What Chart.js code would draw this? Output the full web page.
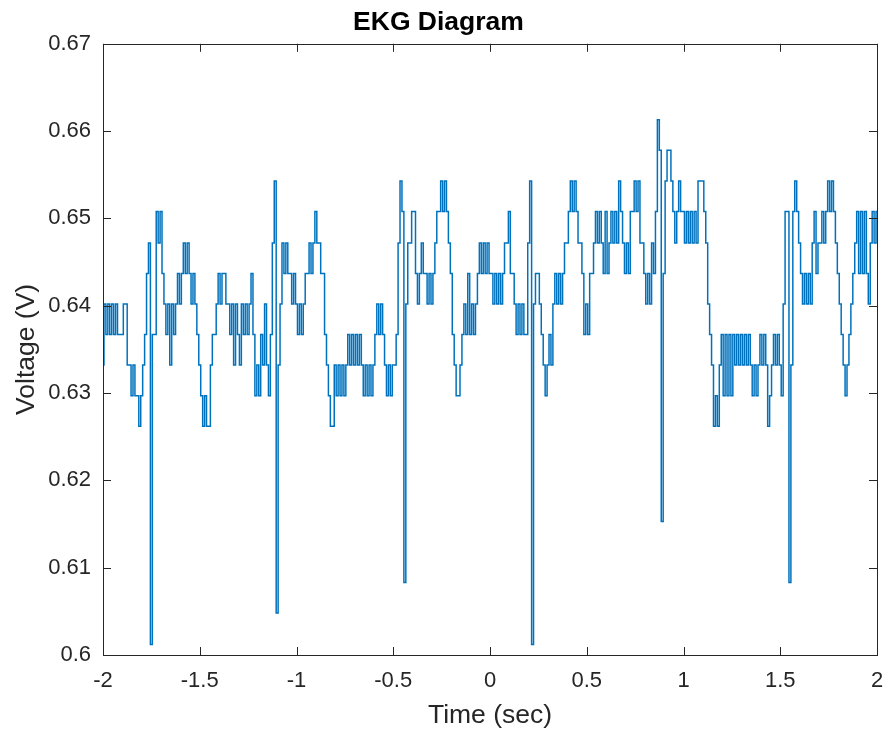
<!DOCTYPE html>
<html>
<head>
<meta charset="utf-8">
<script src="https://cdn.jsdelivr.net/npm/chart.js@4.4.1/dist/chart.umd.min.js"></script>
<style>
  html, body { margin: 0; padding: 0; background: #fff; }
  #wrap { width: 888px; height: 736px; }
</style>
</head>
<body>
<div id="wrap"><canvas id="ekg" width="888" height="736"></canvas></div>
<script>
// sampled EKG trace, 100 samples per second starting at -2 s
var sampleStart = -2;
var sampleStep = 0.01;

var volts = [
    0.6332, 0.6402, 0.6367, 0.6402, 0.6367, 0.6402, 0.6367, 0.6402, 0.6367, 0.6367,
    0.6367, 0.6402, 0.6402, 0.6332, 0.6332, 0.6297, 0.6332, 0.6297, 0.6297, 0.6262,
    0.6297, 0.6332, 0.6367, 0.6437, 0.6472, 0.6012, 0.6367, 0.6367, 0.6508, 0.6472,
    0.6508, 0.6437, 0.6402, 0.6367, 0.6402, 0.6332, 0.6402, 0.6367, 0.6402, 0.6437,
    0.6402, 0.6437, 0.6472, 0.6437, 0.6472, 0.6437, 0.6402, 0.6437, 0.6402, 0.6367,
    0.6332, 0.6297, 0.6262, 0.6297, 0.6262, 0.6262, 0.6332, 0.6367, 0.6367, 0.6402,
    0.6437, 0.6402, 0.6437, 0.6437, 0.6402, 0.6402, 0.6367, 0.6402, 0.6332, 0.6402,
    0.6367, 0.6332, 0.6402, 0.6367, 0.6402, 0.6367, 0.6402, 0.6437, 0.6367, 0.6297,
    0.6332, 0.6297, 0.6367, 0.6332, 0.6402, 0.6332, 0.6297, 0.6367, 0.6472, 0.6543,
    0.6048, 0.6332, 0.6402, 0.6472, 0.6437, 0.6472, 0.6437, 0.6437, 0.6402, 0.6437,
    0.6402, 0.6367, 0.6402, 0.6367, 0.6402, 0.6437, 0.6437, 0.6472, 0.6437, 0.6472,
    0.6508, 0.6472, 0.6472, 0.6437, 0.6437, 0.6367, 0.6332, 0.6297, 0.6262, 0.6262,
    0.6332, 0.6297, 0.6332, 0.6297, 0.6332, 0.6297, 0.6332, 0.6367, 0.6332, 0.6367,
    0.6332, 0.6367, 0.6332, 0.6367, 0.6332, 0.6297, 0.6332, 0.6297, 0.6332, 0.6297,
    0.6332, 0.6367, 0.6402, 0.6367, 0.6402, 0.6367, 0.6332, 0.6297, 0.6332, 0.6297,
    0.6332, 0.6332, 0.6367, 0.6472, 0.6543, 0.6508, 0.6083, 0.6402, 0.6472, 0.6472,
    0.6508, 0.6508, 0.6437, 0.6402, 0.6437, 0.6472, 0.6437, 0.6437, 0.6402, 0.6437,
    0.6402, 0.6437, 0.6472, 0.6508, 0.6508, 0.6543, 0.6508, 0.6543, 0.6508, 0.6472,
    0.6437, 0.6367, 0.6332, 0.6297, 0.6297, 0.6332, 0.6367, 0.6402, 0.6367, 0.6437,
    0.6367, 0.6402, 0.6367, 0.6402, 0.6437, 0.6472, 0.6437, 0.6472, 0.6437, 0.6472,
    0.6437, 0.6437, 0.6402, 0.6437, 0.6402, 0.6437, 0.6402, 0.6437, 0.6472, 0.6472,
    0.6508, 0.6437, 0.6437, 0.6402, 0.6367, 0.6402, 0.6367, 0.6402, 0.6367, 0.6367,
    0.6472, 0.6543, 0.6012, 0.6402, 0.6437, 0.6437, 0.6402, 0.6367, 0.6332, 0.6297,
    0.6332, 0.6367, 0.6332, 0.6402, 0.6437, 0.6402, 0.6437, 0.6402, 0.6437, 0.6472,
    0.6472, 0.6508, 0.6543, 0.6508, 0.6543, 0.6508, 0.6472, 0.6472, 0.6437, 0.6367,
    0.6402, 0.6367, 0.6437, 0.6437, 0.6472, 0.6508, 0.6472, 0.6508, 0.6472, 0.6437,
    0.6508, 0.6437, 0.6472, 0.6508, 0.6472, 0.6508, 0.6472, 0.6543, 0.6508, 0.6472,
    0.6437, 0.6472, 0.6437, 0.6508, 0.6508, 0.6543, 0.6508, 0.6543, 0.6472, 0.6472,
    0.6437, 0.6402, 0.6437, 0.6402, 0.6472, 0.6437, 0.6508, 0.6613, 0.6578, 0.6153,
    0.6437, 0.6543, 0.6578, 0.6578, 0.6543, 0.6508, 0.6472, 0.6508, 0.6543, 0.6508,
    0.6508, 0.6472, 0.6508, 0.6472, 0.6508, 0.6472, 0.6508, 0.6472, 0.6543, 0.6543,
    0.6543, 0.6508, 0.6472, 0.6402, 0.6367, 0.6332, 0.6262, 0.6297, 0.6262, 0.6332,
    0.6367, 0.6297, 0.6367, 0.6297, 0.6367, 0.6297, 0.6367, 0.6332, 0.6367, 0.6332,
    0.6367, 0.6332, 0.6367, 0.6332, 0.6367, 0.6332, 0.6297, 0.6332, 0.6297, 0.6332,
    0.6367, 0.6332, 0.6367, 0.6332, 0.6262, 0.6297, 0.6332, 0.6367, 0.6332, 0.6367,
    0.6332, 0.6297, 0.6402, 0.6508, 0.6508, 0.6083, 0.6332, 0.6508, 0.6543, 0.6508,
    0.6472, 0.6437, 0.6402, 0.6437, 0.6402, 0.6437, 0.6402, 0.6472, 0.6508, 0.6437,
    0.6472, 0.6472, 0.6508, 0.6472, 0.6508, 0.6543, 0.6508, 0.6543, 0.6508, 0.6472,
    0.6437, 0.6402, 0.6367, 0.6332, 0.6297, 0.6332, 0.6367, 0.6402, 0.6437, 0.6472,
    0.6508, 0.6437, 0.6508, 0.6437, 0.6508, 0.6437, 0.6402, 0.6472, 0.6508, 0.6472,
    0.6508
];

var xTicks = [-2, -1.5, -1, -0.5, 0, 0.5, 1, 1.5, 2];
var yTicks = [0.6, 0.61, 0.62, 0.63, 0.64, 0.65, 0.66, 0.67];

var points = volts.map(function (v, i) {
    return { x: +(sampleStart + i * sampleStep).toFixed(2), y: v };
});

var axisColor = '#262626';
var fontFamily = 'Liberation Sans, Arial, Helvetica, sans-serif';

// matlab style box with ticks pointing inwards on all four sides
var boxAxes = {
    id: 'boxAxes',
    afterDraw: function (chart) {
        var ctx = chart.ctx;
        var a = chart.chartArea;
        var xs = chart.scales.x, ys = chart.scales.y;
        var len = 8;
        ctx.save();
        ctx.strokeStyle = axisColor;
        ctx.lineWidth = 1;
        ctx.beginPath();
        xTicks.forEach(function (t) {
            var px = Math.round(xs.getPixelForValue(t)) + 0.5;
            ctx.moveTo(px, a.bottom); ctx.lineTo(px, a.bottom - len);
            ctx.moveTo(px, a.top); ctx.lineTo(px, a.top + len);
        });
        yTicks.forEach(function (t) {
            var py = Math.round(ys.getPixelForValue(t)) + 0.5;
            ctx.moveTo(a.left, py); ctx.lineTo(a.left + len, py);
            ctx.moveTo(a.right, py); ctx.lineTo(a.right - len, py);
        });
        ctx.stroke();
        ctx.strokeRect(Math.round(a.left) + 0.5, Math.round(a.top) + 0.5,
            Math.round(a.right - a.left), Math.round(a.bottom - a.top));
        ctx.restore();
    }
};

var ctx = document.getElementById('ekg').getContext('2d');
var ekgChart = new Chart(ctx, {
    type: 'line',
    data: {
        datasets: [{
            label: 'EKG',
            data: points,
            borderColor: '#0072BD',
            borderWidth: 1.5,
            pointRadius: 0,
            stepped: 'middle',
            fill: false
        }]
    },
    options: {
        responsive: false,
        animation: false,
        layout: { padding: { top: 0, right: 11, bottom: 0, left: 0 } },
        plugins: {
            legend: { display: false },
            tooltip: { enabled: false },
            title: {
                display: true,
                text: 'EKG Diagram',
                color: '#000',
                font: { family: fontFamily, size: 26.5, weight: 'bold' },
                padding: { top: 7, bottom: 5 }
            }
        },
        scales: {
            x: {
                type: 'linear',
                min: -2,
                max: 2,
                grid: { display: false, drawTicks: false },
                border: { display: false },
                afterBuildTicks: function (scale) {
                    scale.ticks = xTicks.map(function (v) { return { value: v }; });
                },
                afterFit: function (scale) {
                    scale.height = 81;
                    scale.paddingLeft = 0;
                    scale.paddingRight = 0;
                },
                ticks: {
                    color: axisColor,
                    padding: 13,
                    maxRotation: 0,
                    font: { family: fontFamily, size: 22 },
                    callback: function (v) { return String(v); }
                },
                title: {
                    display: true,
                    text: 'Time (sec)',
                    color: axisColor,
                    font: { family: fontFamily, size: 26.5 },
                    padding: { top: 0, bottom: 4 }
                }
            },
            y: {
                type: 'linear',
                min: 0.6,
                max: 0.67,
                grid: { display: false, drawTicks: false },
                border: { display: false },
                afterBuildTicks: function (scale) {
                    scale.ticks = yTicks.map(function (v) { return { value: v }; });
                },
                afterFit: function (scale) { scale.width = 103; },
                ticks: {
                    color: axisColor,
                    padding: 12,
                    font: { family: fontFamily, size: 22 },
                    callback: function (v) { return String(+v.toFixed(2)); }
                },
                title: {
                    display: true,
                    text: 'Voltage (V)',
                    color: axisColor,
                    font: { family: fontFamily, size: 26.5 },
                    padding: { top: 11, bottom: 0 }
                }
            }
        }
    },
    plugins: [boxAxes]
});
</script>
</body>
</html>
